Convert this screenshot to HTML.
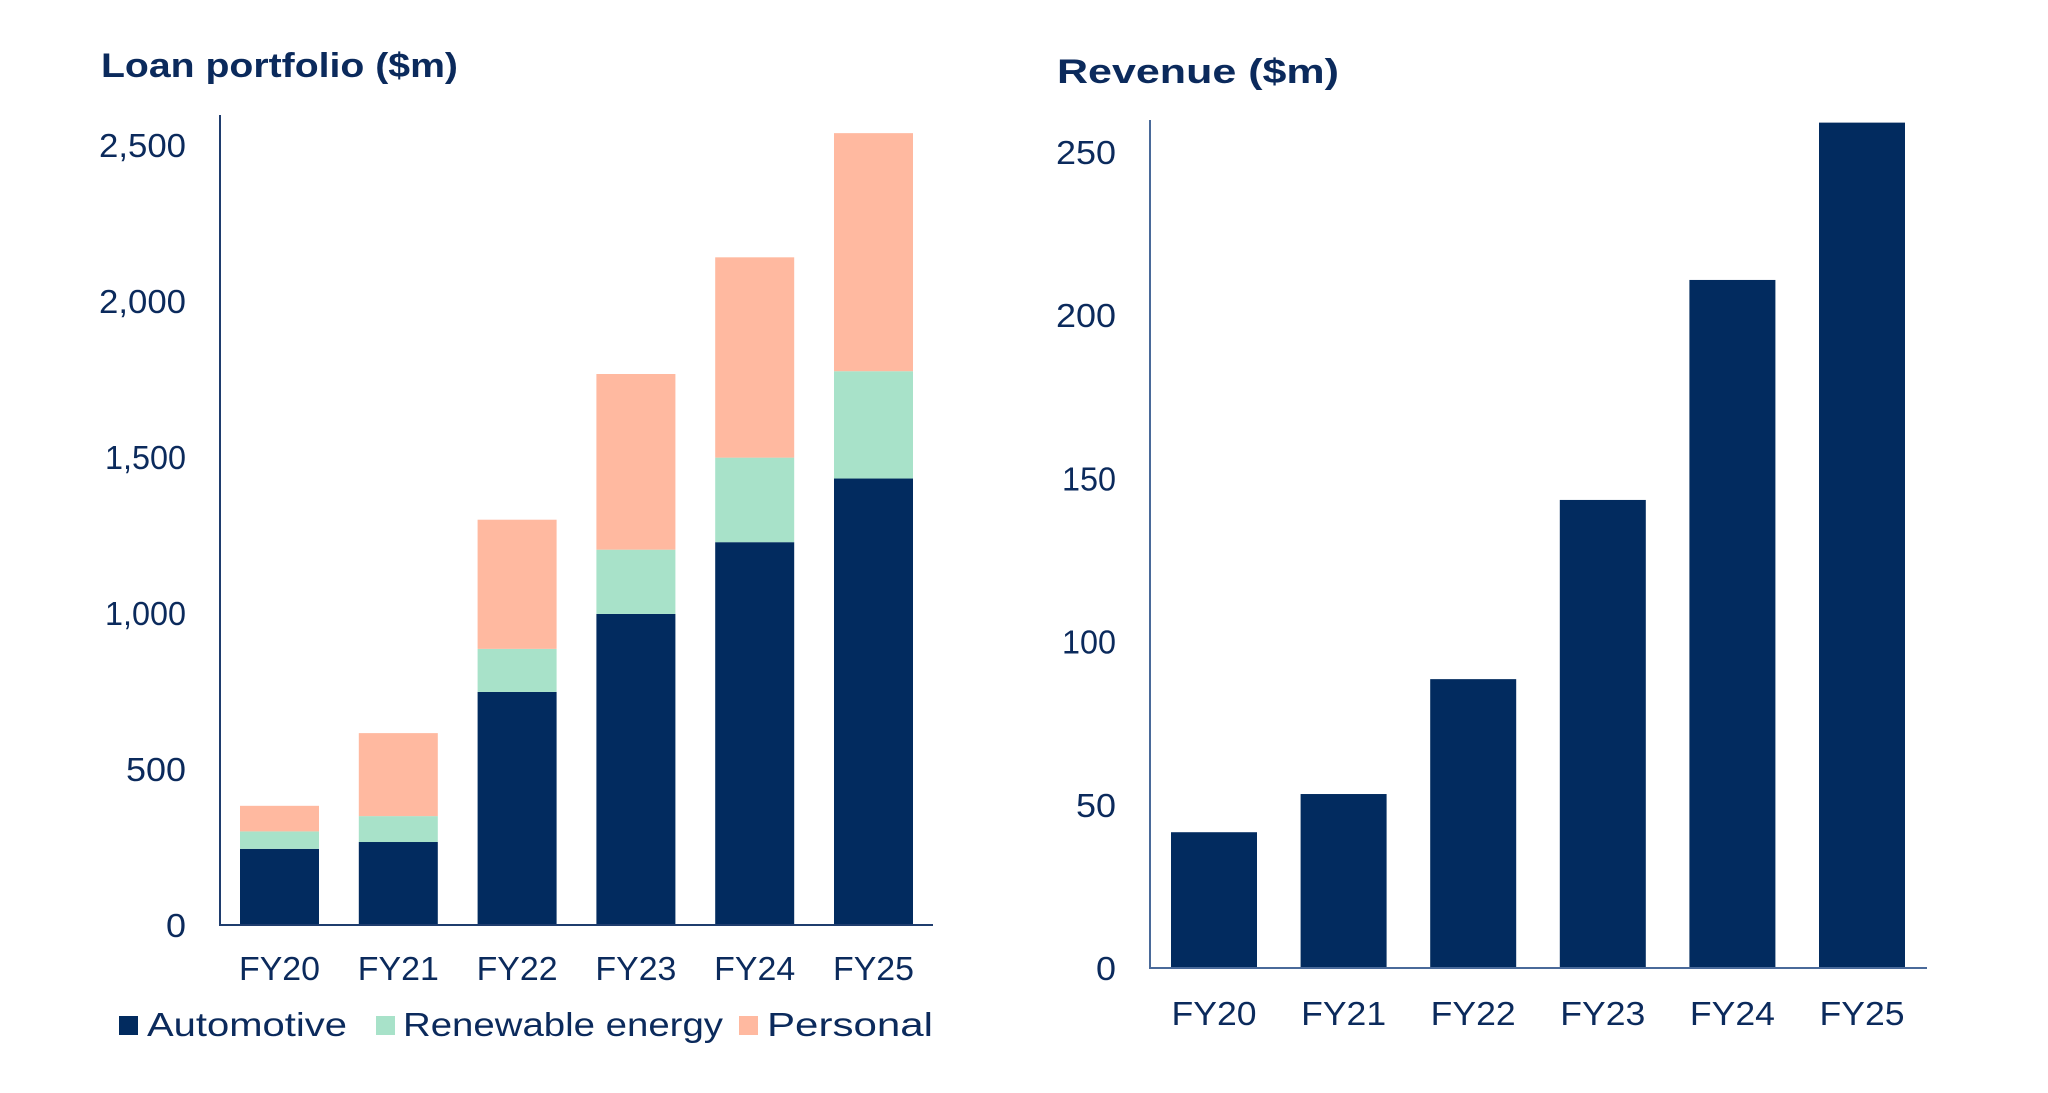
<!DOCTYPE html>
<html><head><meta charset="utf-8"><style>
html,body{margin:0;padding:0;background:#fff;}
svg{display:block;font-family:"Liberation Sans",sans-serif;}
</style></head><body>
<svg id="chart" width="2048" height="1093" viewBox="0 0 2048 1093" xmlns="http://www.w3.org/2000/svg">
<text x="101" y="77" font-size="34" font-weight="bold" fill="#0B2A5C" textLength="357" lengthAdjust="spacingAndGlyphs">Loan portfolio ($m)</text>
<text x="1057" y="83" font-size="34" font-weight="bold" fill="#0B2A5C" textLength="282" lengthAdjust="spacingAndGlyphs">Revenue ($m)</text>
<g id="left"></g>
<g id="right"></g>
<g>
<rect x="119" y="1016" width="19" height="19" fill="#022B5F"/>
<text x="147" y="1036" font-size="33" fill="#0B2A5C" textLength="200" lengthAdjust="spacingAndGlyphs">Automotive</text>
<rect x="376" y="1016" width="19" height="19" fill="#A8E2C9"/>
<text x="403" y="1036" font-size="33" fill="#0B2A5C" textLength="320" lengthAdjust="spacingAndGlyphs">Renewable energy</text>
<rect x="739" y="1016" width="19" height="19" fill="#FFB9A0"/>
<text x="767" y="1036" font-size="33" fill="#0B2A5C" textLength="166" lengthAdjust="spacingAndGlyphs">Personal</text>
</g>
</svg>
<script>
const categories = ["FY20","FY21","FY22","FY23","FY24","FY25"];
const automotive = [244, 266, 747, 997, 1227, 1431];
const renewable = [56, 83, 138, 206, 271, 344];
const personal = [82, 266, 414, 563, 642, 763];
const loanTicks = [0, 500, 1000, 1500, 2000, 2500];
const loanTickLabels = ["0","500","1,000","1,500","2,000","2,500"];
const revenue = [41.6, 53.3, 88.5, 143.4, 210.8, 259];
const revTicks = [0, 50, 100, 150, 200, 250];
const revTickLabels = ["0","50","100","150","200","250"];

const NS = "http://www.w3.org/2000/svg";
const NAVY = "#022B5F", TXT = "#0B2A5C";
function mk(parent, tag, attrs){
  const e = document.createElementNS(NS, tag);
  for (const k in attrs) e.setAttribute(k, attrs[k]);
  parent.appendChild(e); return e;
}
function labelLen(s){
  let w = 0;
  for (const ch of s) w += (ch === ',') ? 7 : (ch === '1' ? 14 : 20);
  return w;
}
// left chart axes
const L = {x0:220, x1:933, yBase:925, yTop:115, first:240, step:118.8, bw:79, max:2500, maxY:145};
const ly = v => L.yBase - v/L.max*(L.yBase-L.maxY);
const lx = i => L.first + i*L.step;
const left = document.getElementById('left');
loanTicks.forEach((t,i)=>{
  const tx = mk(left,'text',{x:186, y:ly(t)+12, 'font-size':33, fill:TXT, 'text-anchor':'end', textLength:labelLen(loanTickLabels[i]), lengthAdjust:'spacingAndGlyphs'});
  tx.textContent = loanTickLabels[i];
  
  
});
categories.forEach((c,i)=>{
  const segs = [[automotive[i],NAVY,'automotive'],[renewable[i],'#A8E2C9','renewable'],[personal[i],'#FFB9A0','personal']];
  let base = 0;
  segs.forEach(s=>{
    const r = mk(left,'rect',{x:lx(i), y:ly(base+s[0]), width:L.bw, height:ly(base)-ly(base+s[0]), fill:s[1]});
    
    
    base += s[0];
  });
  const tx = mk(left,'text',{x:lx(i)+L.bw/2, y:980, 'font-size':33, fill:TXT, 'text-anchor':'middle', textLength:81, lengthAdjust:'spacingAndGlyphs'});
  tx.textContent = c;
  
  
});
const la = mk(left,'path',{d:`M${L.x0} ${L.yTop} V${L.yBase} H${L.x1}`, stroke:'#1F3D6E', 'stroke-width':2, fill:'none'});



// right chart
const R = {x0:1150, x1:1927, yBase:968, yTop:120, first:1171, step:129.6, bw:86, max:250, maxY:152};
const ry = v => R.yBase - v/R.max*(R.yBase-R.maxY);
const rx = i => R.first + i*R.step;
const right = document.getElementById('right');
revTicks.forEach((t,i)=>{
  const tx = mk(right,'text',{x:1116, y:ry(t)+12, 'font-size':33, fill:TXT, 'text-anchor':'end', textLength:labelLen(revTickLabels[i]), lengthAdjust:'spacingAndGlyphs'});
  tx.textContent = revTickLabels[i];
  
  
});
categories.forEach((c,i)=>{
  const r = mk(right,'rect',{x:rx(i), y:ry(revenue[i]), width:R.bw, height:R.yBase-ry(revenue[i]), fill:NAVY});
  
  
  const tx = mk(right,'text',{x:rx(i)+R.bw/2, y:1025, 'font-size':33, fill:TXT, 'text-anchor':'middle', textLength:85, lengthAdjust:'spacingAndGlyphs'});
  tx.textContent = c;
  
  
});
const ra = mk(right,'path',{d:`M${R.x0} ${R.yTop} V${R.yBase} H${R.x1}`, stroke:'#4A6A9A', 'stroke-width':2, fill:'none'});


</script>
</body></html>
